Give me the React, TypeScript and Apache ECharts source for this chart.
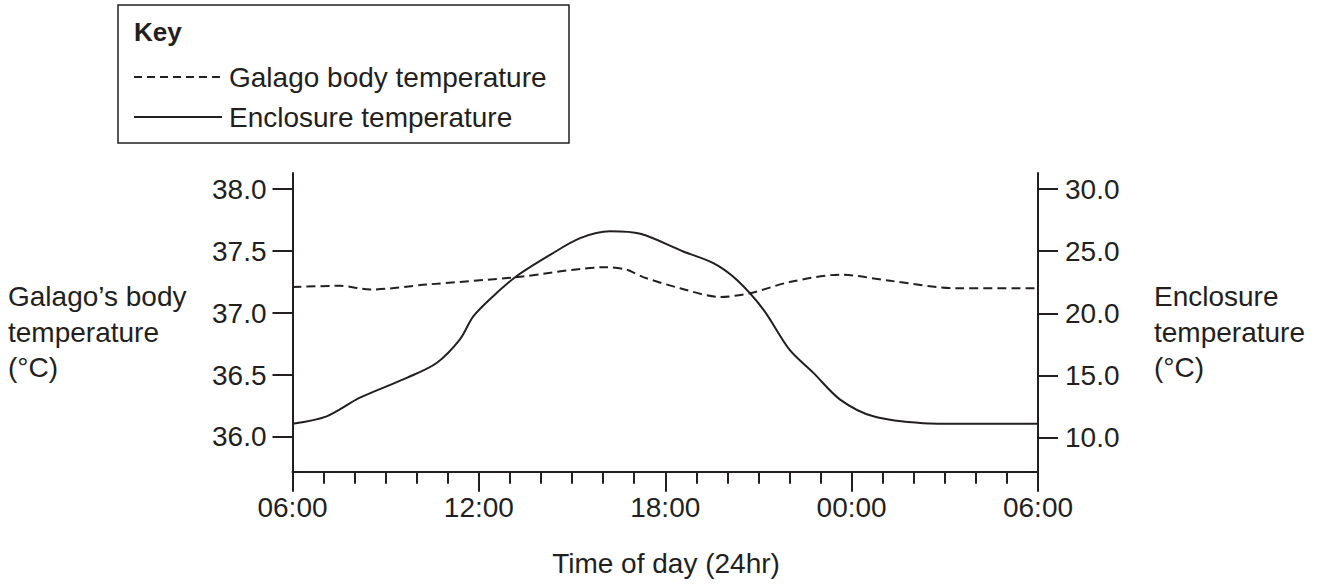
import React, { useEffect, useRef } from "react";
import * as echarts from "echarts";

const INK = "#231f20";
const FONT = "'Liberation Sans', Arial, Helvetica, sans-serif";
const FS = 28;

// Hours after 06:00
const xTickLabels = ["06:00", "12:00", "18:00", "00:00", "06:00"];
const leftTicks = [36.0, 36.5, 37.0, 37.5, 38.0];
const rightTicks = [10.0, 15.0, 20.0, 25.0, 30.0];

const bodyHours = [0, 1.53, 2.5, 4.32, 7.22, 10.12, 10.76, 11.29, 12.48, 13.76, 14.73, 16.0, 17.63, 19.24, 21.38, 24];
const bodyTemp = [37.21, 37.22, 37.19, 37.23, 37.29, 37.37, 37.35, 37.29, 37.2, 37.13, 37.16, 37.25, 37.31, 37.26, 37.2, 37.2];

const enclosureHours = [0, 1.1, 2.17, 3.68, 4.64, 5.39, 5.82, 6.47, 7.22, 8.29, 9.26, 10.22, 11.2, 12.58, 13.55, 14.3, 15.16, 16.0, 16.77, 17.63, 18.7, 20.3, 21.5, 24];
const enclosureTemp = [11.1, 11.7, 13.2, 14.8, 16.0, 17.9, 19.75, 21.4, 23.0, 24.7, 26.05, 26.6, 26.4, 24.98, 24.04, 22.7, 20.3, 17.07, 15.2, 13.05, 11.7, 11.15, 11.1, 11.1];

const leftTitle = ["Galago\u2019s body", "temperature", "(\u00b0C)"];
const rightTitle = ["Enclosure", "temperature", "(\u00b0C)"];
const xTitle = "Time of day (24hr)";
const keyTitle = "Key";
const seriesNames = ["Galago body temperature", "Enclosure temperature"];

export default function App() {
  const ref = useRef<HTMLDivElement>(null);
  useEffect(() => {
    if (!ref.current) return;
    const chart = echarts.init(ref.current, null, { renderer: "svg" });
    const textStyle = { fill: INK, fontSize: FS, fontFamily: FONT };
    const titleLineY = [296, 332, 367];
    const graphic: any[] = [
      {
        type: "rect",
        shape: { x: 118, y: 5, width: 451, height: 138 },
        style: { fill: "none", stroke: INK, lineWidth: 1.5 },
      },
      {
        type: "text",
        x: 134,
        y: 32,
        style: { ...textStyle, text: keyTitle, fontSize: 26, fontWeight: "bold", verticalAlign: "middle" },
      },
      {
        type: "line",
        shape: { x1: 134, y1: 77, x2: 222, y2: 77 },
        style: { stroke: INK, lineWidth: 2, lineDash: [8, 5] },
      },
      {
        type: "text",
        x: 229,
        y: 77,
        style: { ...textStyle, text: seriesNames[0], verticalAlign: "middle" },
      },
      {
        type: "line",
        shape: { x1: 134, y1: 117, x2: 222, y2: 117 },
        style: { stroke: INK, lineWidth: 2 },
      },
      {
        type: "text",
        x: 229,
        y: 117,
        style: { ...textStyle, text: seriesNames[1], verticalAlign: "middle" },
      },
      {
        type: "text",
        x: 666,
        y: 563,
        style: { ...textStyle, text: xTitle, align: "center", verticalAlign: "middle" },
      },
    ];
    leftTitle.forEach((t, i) =>
      graphic.push({ type: "text", x: 8, y: titleLineY[i], style: { ...textStyle, text: t, verticalAlign: "middle" } })
    );
    rightTitle.forEach((t, i) =>
      graphic.push({ type: "text", x: 1154, y: titleLineY[i], style: { ...textStyle, text: t, verticalAlign: "middle" } })
    );

    const yAxisCommon = {
      type: "value",
      splitLine: { show: false },
      axisLine: { show: true, lineStyle: { color: INK, width: 2 } },
      axisTick: { show: true, length: 20, lineStyle: { color: INK, width: 2 } },
      axisLabel: {
        color: INK,
        fontSize: FS,
        fontFamily: FONT,
        formatter: (v: number) => v.toFixed(1),
      },
    };

    chart.setOption({
      animation: false,
      backgroundColor: "#ffffff",
      grid: { left: 292.5, right: 289, top: 173, bottom: 113.3, containLabel: false },
      xAxis: {
        type: "value",
        min: 0,
        max: 24,
        interval: 6,
        splitLine: { show: false },
        minorSplitLine: { show: false },
        axisLine: { show: true, onZero: false, lineStyle: { color: INK, width: 2 } },
        axisTick: { show: true, length: 20, lineStyle: { color: INK, width: 2 } },
        minorTick: { show: true, splitNumber: 6, length: 12, lineStyle: { color: INK, width: 2 } },
        axisLabel: {
          color: INK,
          fontSize: FS,
          fontFamily: FONT,
          margin: 22,
          formatter: (v: number) => xTickLabels[Math.round(v / 6)],
        },
      },
      yAxis: [
        {
          ...yAxisCommon,
          position: "left",
          min: 35.72,
          max: 38.13,
          axisTick: { ...yAxisCommon.axisTick, customValues: leftTicks },
          axisLabel: { ...yAxisCommon.axisLabel, margin: 26, customValues: leftTicks },
        },
        {
          ...yAxisCommon,
          position: "right",
          min: 7.24,
          max: 31.3,
          axisTick: { ...yAxisCommon.axisTick, customValues: rightTicks },
          axisLabel: { ...yAxisCommon.axisLabel, margin: 27, customValues: rightTicks },
        },
      ],
      series: [
        {
          name: seriesNames[0],
          type: "line",
          yAxisIndex: 0,
          data: bodyHours.map((h, i) => [h, bodyTemp[i]]),
          smooth: 0.3,
          showSymbol: false,
          lineStyle: { color: INK, width: 2, type: [9, 5] },
        },
        {
          name: seriesNames[1],
          type: "line",
          yAxisIndex: 1,
          data: enclosureHours.map((h, i) => [h, enclosureTemp[i]]),
          smooth: 0.3,
          showSymbol: false,
          lineStyle: { color: INK, width: 2 },
        },
      ],
      graphic,
    });
    return () => chart.dispose();
  }, []);
  return (
    <div
      ref={ref}
      style={{ position: "fixed", left: 0, top: 0, width: 1327, height: 585, background: "#fff" }}
    />
  );
}
